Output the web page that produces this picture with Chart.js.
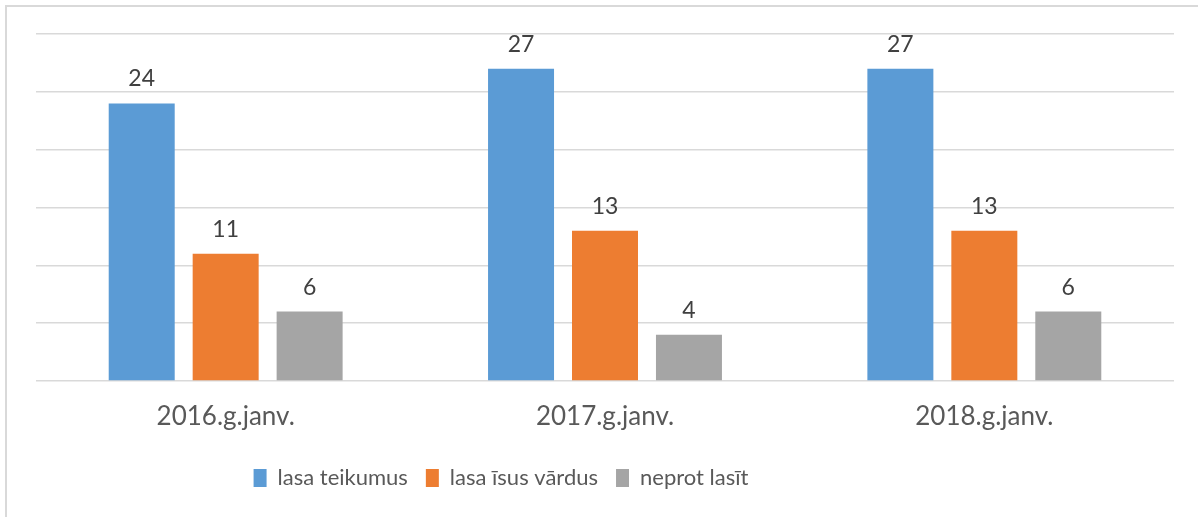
<!DOCTYPE html>
<html>
<head>
<meta charset="utf-8">
<script src="https://cdn.jsdelivr.net/npm/chart.js@4"></script>
<style>
  html, body { margin: 0; padding: 0; background: #fff; }
  #wrap { position: relative; width: 1198px; height: 517px; }
  #frame { position: absolute; left: 5px; top: 5px; right: 0; bottom: 0;
           border-left: 2px solid #d9d9d9; border-top: 2px solid #d9d9d9; }
  canvas { position: absolute; left: 0; top: 0; }
</style>
</head>
<body>
<div id="wrap">
  <div id="frame"></div>
  <canvas id="chart" width="1198" height="517"></canvas>
</div>
<script>
// categories and series
const categories = ['2016.g.janv.', '2017.g.janv.', '2018.g.janv.'];
const seriesNames = ['lasa teikumus', 'lasa īsus vārdus', 'neprot lasīt'];
const readsSentences = [24, 27, 27];
const readsShortWords = [11, 13, 13];
const cannotRead = [6, 4, 6];
const seriesColors = ['#5b9bd5', '#ed7d31', '#a5a5a5'];

const FONT = 'Lato, "Open Sans", sans-serif';

// small plugin for the value labels above the bars
const valueLabels = {
    id: 'valueLabels',
    afterDatasetsDraw(chart) {
        const c = chart.ctx;
        c.save();
        c.font = '23px ' + FONT;
        c.fillStyle = '#404040';
        c.textAlign = 'center';
        c.textBaseline = 'alphabetic';
        chart.data.datasets.forEach((ds, i) => {
            chart.getDatasetMeta(i).data.forEach((bar, j) => {
                c.fillText(String(ds.data[j]), bar.x, bar.y - 17);
            });
        });
        c.restore();
    }
};

// the legend in the original sits left of centre, so nudge it over
const legendShift = {
    id: 'legendShift',
    afterLayout(chart) {
        chart.legend.left -= 104;
        chart.legend.right -= 104;
    }
};

const ctx = document.getElementById('chart').getContext('2d');
new Chart(ctx, {
    type: 'bar',
    data: {
        labels: categories,
        datasets: [
            { label: seriesNames[0], data: readsSentences, backgroundColor: seriesColors[0] },
            { label: seriesNames[1], data: readsShortWords, backgroundColor: seriesColors[1] },
            { label: seriesNames[2], data: cannotRead, backgroundColor: seriesColors[2] }
        ]
    },
    options: {
        responsive: false,
        animation: false,
        layout: { padding: { left: 36, right: 24, top: 34, bottom: 18 } },
        datasets: { bar: { categoryPercentage: 0.664, barPercentage: 0.786 } },
        plugins: {
            tooltip: { enabled: false },
            legend: {
                position: 'bottom',
                labels: {
                    font: { size: 22, family: FONT },
                    color: '#595959',
                    boxWidth: 13,
                    boxHeight: 18,
                    padding: 18
                }
            }
        },
        scales: {
            x: {
                grid: { display: false, drawTicks: false },
                border: { display: false },
                ticks: { font: { size: 26, family: FONT }, color: '#595959', padding: 20 },
                afterFit: (scale) => { scale.height = 68; }
            },
            y: {
                min: 0,
                max: 30,
                ticks: { display: false, stepSize: 5 },
                border: { display: false },
                grid: { color: '#d9d9d9', lineWidth: 1.5, drawTicks: false },
                afterFit: (scale) => { scale.width = 0; }
            }
        }
    },
    plugins: [valueLabels, legendShift]
});
</script>
</body>
</html>
